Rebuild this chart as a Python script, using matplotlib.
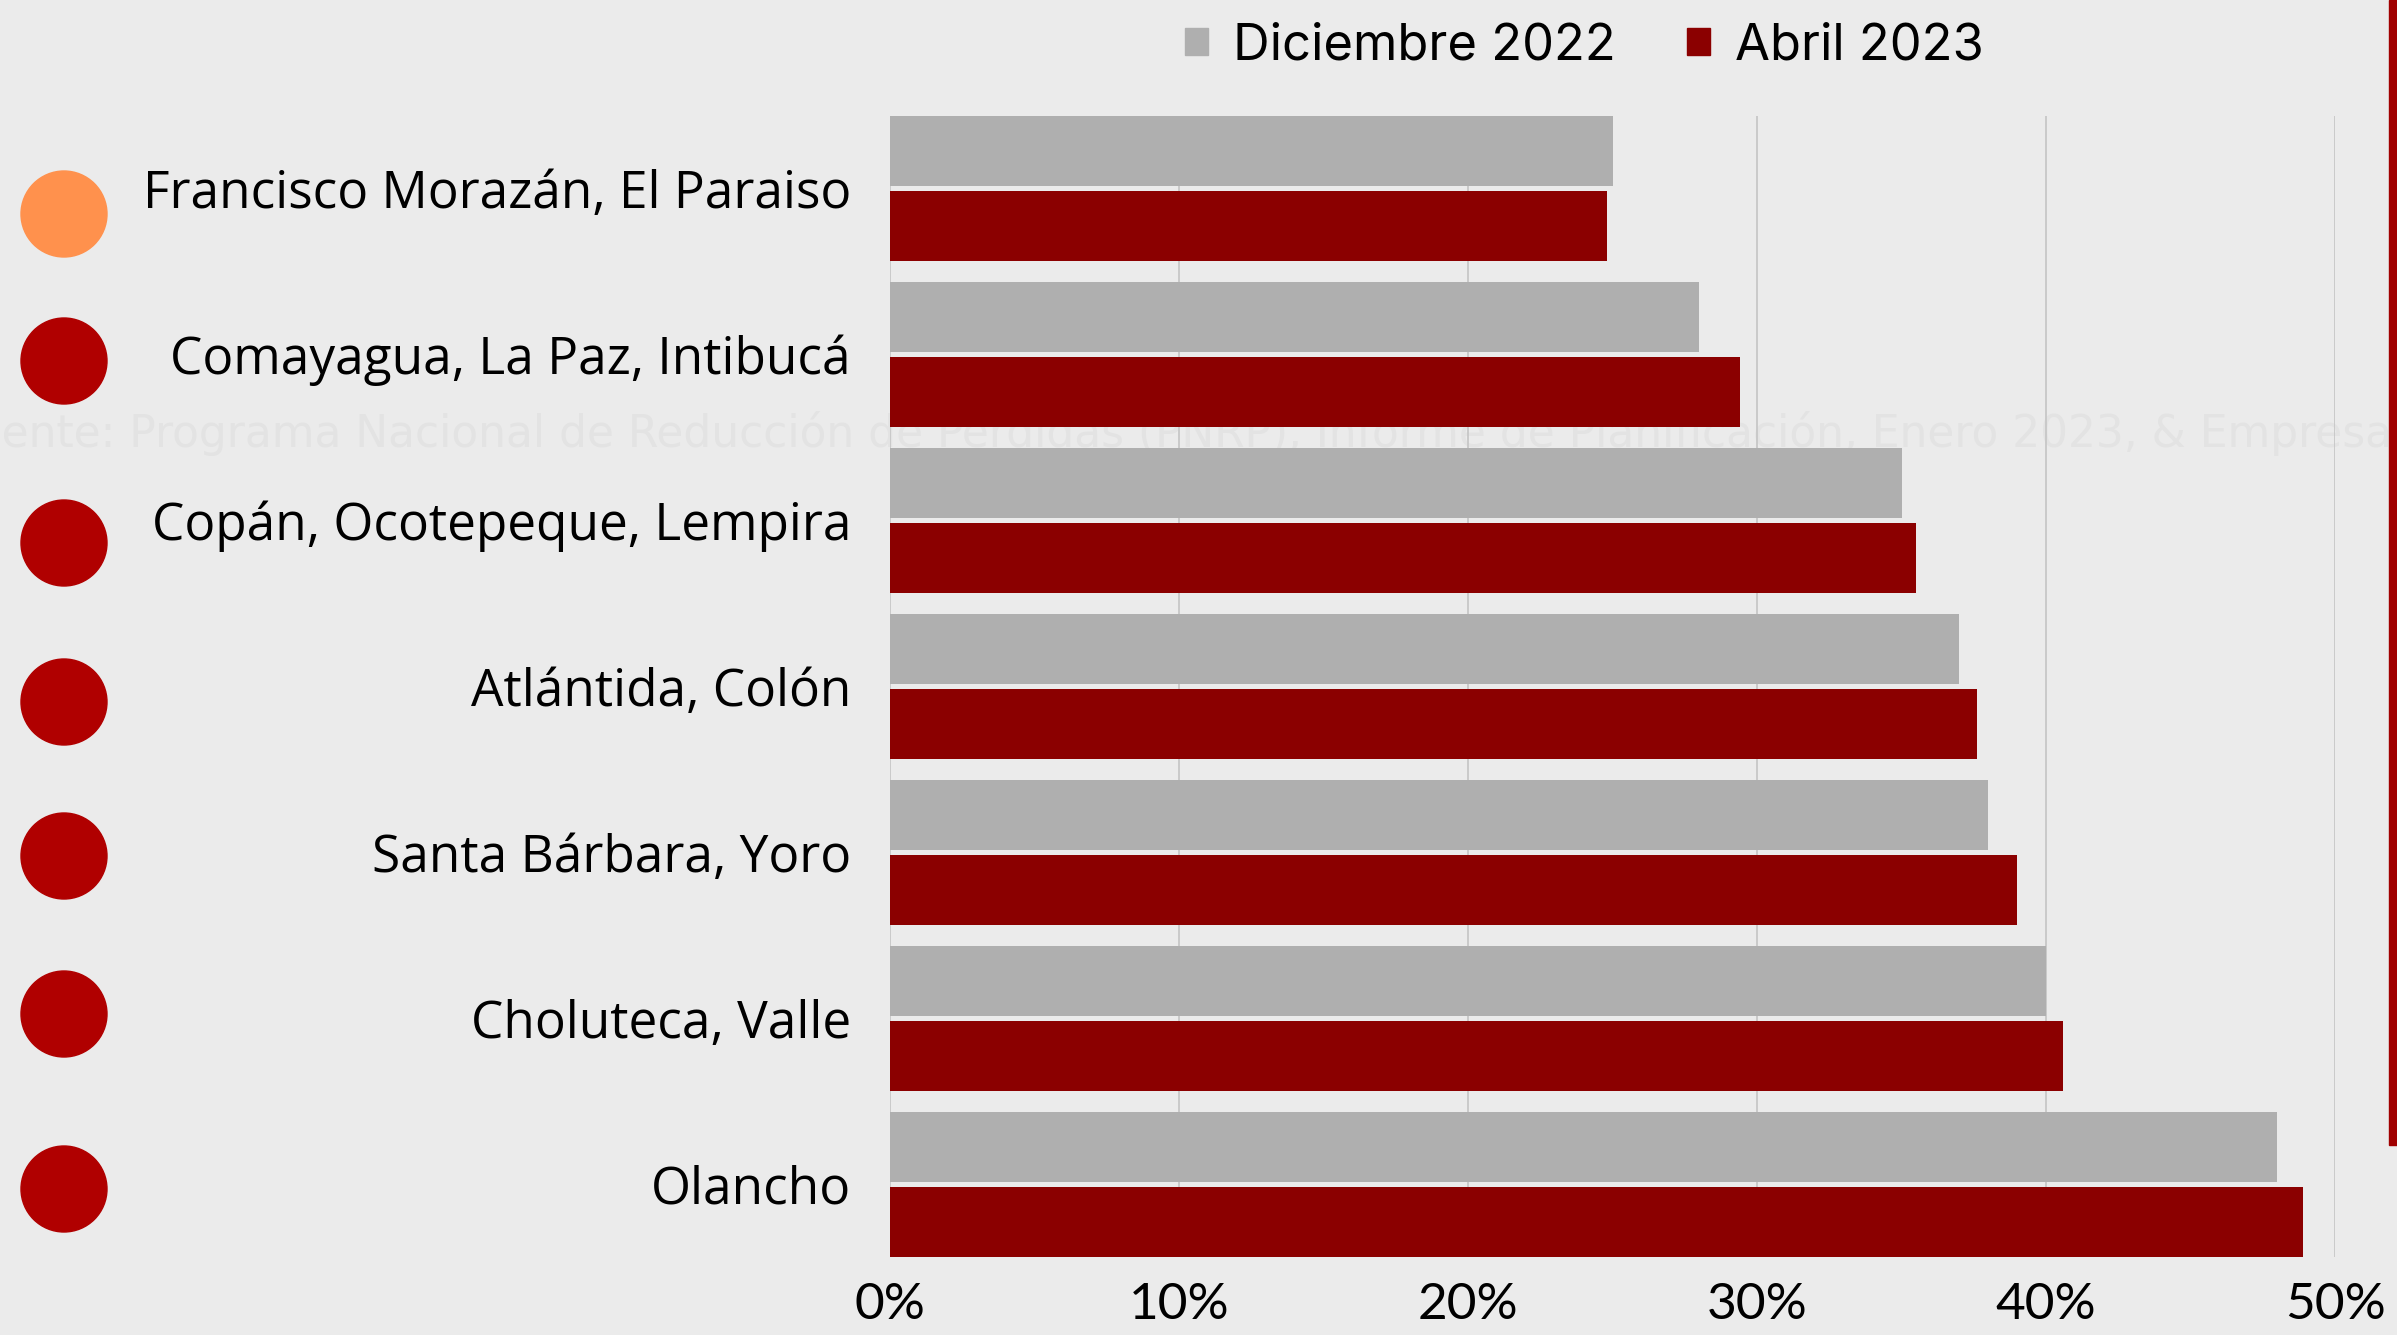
import matplotlib
matplotlib.use("Agg")
import matplotlib.pyplot as plt
from matplotlib.patches import Patch, Circle, Rectangle
from matplotlib.ticker import FuncFormatter
import numpy as np

regions = ["Francisco Morazán, El Paraiso", "Comayagua, La Paz, Intibucá",
           "Copán, Ocotepeque, Lempira", "Atlántida, Colón",
           "Santa Bárbara, Yoro", "Choluteca, Valle", "Olancho"]
dic_2022 = [25.0, 28.0, 35.0, 37.0, 38.0, 40.0, 48.0]
abr_2023 = [24.8, 29.4, 35.5, 37.6, 39.0, 40.6, 48.9]
status_colors = ["#ff914d", "#b00000", "#b00000", "#b00000", "#b00000", "#b00000", "#b00000"]
series_names = ["Diciembre 2022", "Abril 2023"]
xticks = [0, 10, 20, 30, 40, 50]
source_text = ("Fuente: Programa Nacional de Reducción de Pérdidas (PNRP), "
               "Informe de Planificación, Enero 2023, & Empresa")

BG = "#ebebeb"
GRAY = "#afafaf"
RED = "#8b0000"
W, H = 2397, 1335
DPI = 100

fig = plt.figure(figsize=(W / DPI, H / DPI), dpi=DPI, facecolor=BG)

# faint watermark behind everything (cut at the left edge like the source)
renderer = fig.canvas.get_renderer()
base = 30
probe_all = fig.text(0, 0, source_text, fontsize=base, family="DejaVu Sans")
probe_fu = fig.text(0, 0, "Fu", fontsize=base, family="DejaVu Sans")
w_all = probe_all.get_window_extent(renderer).width
w_fu = probe_fu.get_window_extent(renderer).width
probe_all.remove(); probe_fu.remove()
fs = base * 2386 / (w_all - w_fu)
fu_w = w_fu * fs / base
fig.text((2 - fu_w) / W, 1 - 434 / H, source_text, fontsize=fs, family="DejaVu Sans",
         color="#e3e3e3", va="center", ha="left", zorder=-5)

ax = fig.add_axes([890 / W, 1 - 1257 / H, (2335 - 890) / W, (1257 - 116) / H])
ax.patch.set_alpha(0)

y = np.arange(len(regions))
bh = 0.424
off = bh / 2 + 0.014
ax.barh(y - off, dic_2022, height=bh, color=GRAY, zorder=3, label=series_names[0])
ax.barh(y + off, abr_2023, height=bh, color=RED, zorder=3, label=series_names[1])

ax.set_xlim(0, 50)
ax.set_ylim(len(regions) - 1 + off + bh / 2, -off - bh / 2)
ax.set_xticks(xticks)
ax.xaxis.set_major_formatter(FuncFormatter(lambda v, p: f"{v:.0f}%"))
ax.set_yticks(y)
ax.set_yticklabels(regions, family="Open Sans", fontsize=37)
ax.tick_params(axis="y", length=0, pad=28)
ax.tick_params(axis="x", length=0, pad=18, labelsize=37)
for t in ax.get_xticklabels():
    t.set_family("Lato")
ax.grid(axis="x", color="#c4c4c4", linewidth=1.2, zorder=0)
ax.grid(axis="y", visible=False)
for s in ax.spines.values():
    s.set_visible(False)

# status circles
cy_px = [214, 361, 543, 702, 856, 1014, 1189]
for c, cy in zip(status_colors, cy_px):
    fig.add_artist(Circle((64 / DPI, (H - cy) / DPI), 43 / DPI, color=c,
                          transform=fig.dpi_scale_trans, zorder=2))

# right accent bar
fig.add_artist(Rectangle(((W - 8) / DPI, (H - 1145) / DPI), 8 / DPI, 1145 / DPI,
                         color="#a00000", transform=fig.dpi_scale_trans, zorder=2))

handles = [Patch(color=GRAY), Patch(color=RED)]
fig.legend(handles, series_names, loc="center left",
           bbox_to_anchor=(1185 / W, 1 - 46 / H), ncol=2, frameon=False,
           prop={"family": "Inter", "size": 36.5}, handlelength=0.45,
           handleheight=0.45, handletextpad=0.5, columnspacing=1.4,
           borderpad=0, borderaxespad=0)

fig.savefig("out.png", dpi=DPI, facecolor=BG)
